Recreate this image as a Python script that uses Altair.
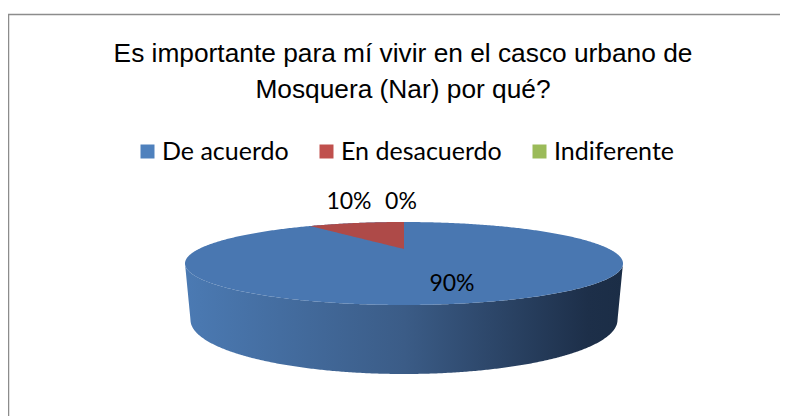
import altair as alt
import numpy as np
import pandas as pd

categories = ["De acuerdo", "En desacuerdo", "Indiferente"]
shares = [90, 10, 0]
legend_colors = ["#4f81bd", "#c0504d", "#9bbb59"]
title_lines = ["Es importante para mí vivir en el casco urbano de", "Mosquera (Nar) por qué?"]

W, H = 772, 408
OX, OY = 8, 8  # page margin

cx, cy, rx, ry = 404 - OX, 263.5 - OY, 219, 41.5
bcy, brx, bry = 320 - OY, 213.5, 54
apex_y = 249 - OY
wedge_param = np.radians(25.4)

xs = cx + rx * np.sin(np.linspace(-np.pi / 2, np.pi / 2, 361))
dx = xs - cx
half = ry * np.sqrt(np.clip(1 - (dx / rx) ** 2, 0, 1))
top_df = pd.DataFrame({"x": xs, "y": cy - half, "y2": cy + half})

bottom = np.where(
    np.abs(dx) <= brx,
    bcy + bry * np.sqrt(np.clip(1 - (dx / brx) ** 2, 0, 1)),
    cy + (bcy - cy) * (rx - np.abs(dx)) / (rx - brx),
)
side_df = pd.DataFrame({"x": xs, "y": cy + half, "y2": bottom})

wx = cx - rx * np.sin(wedge_param * np.linspace(1, 0, 60))
wy_top = cy - ry * np.sqrt(np.clip(1 - ((wx - cx) / rx) ** 2, 0, 1))
wy_edge = wy_top[0] + (apex_y - wy_top[0]) * (wx - wx[0]) / (cx - wx[0])
wedge_df = pd.DataFrame({"x": wx, "y": wy_top, "y2": wy_edge})

X = alt.X("x:Q", scale=alt.Scale(domain=[0, W], range=[0, W]), axis=None)
Y = alt.Y("y:Q", scale=alt.Scale(domain=[0, H], range=[0, H]), axis=None)

side = alt.Chart(side_df).mark_area(
    color=alt.LinearGradient(
        gradient="linear", x1=0, x2=1, y1=0, y2=0,
        stops=[
            alt.GradientStop(offset=0, color="#4b7ab3"),
            alt.GradientStop(offset=0.5, color="#3b5c87"),
            alt.GradientStop(offset=0.92, color="#1d2f49"),
            alt.GradientStop(offset=1, color="#1b2d46"),
        ],
    )
).encode(x=X, y=Y, y2="y2:Q")
top = alt.Chart(top_df).mark_area(color="#4977b1").encode(x=X, y=Y, y2="y2:Q")
wedge = alt.Chart(wedge_df).mark_area(color="#ae4a48").encode(x=X, y=Y, y2="y2:Q")

border_top = alt.Chart(pd.DataFrame({"x": [0], "x2": [W], "y": [14.5 - OY]})).mark_rule(
    color="#8c8c8c", strokeWidth=1.5).encode(x=X, x2="x2:Q", y=Y)
border_left = alt.Chart(pd.DataFrame({"x": [0.5], "y": [14 - OY], "y2": [H]})).mark_rule(
    color="#8c8c8c", strokeWidth=1.5).encode(x=X, y=Y, y2="y2:Q")

title_df = pd.DataFrame({"t": title_lines, "x": [403 - OX, 403 - OX], "y": [54 - OY, 90 - OY]})
title = alt.Chart(title_df).mark_text(
    font="Liberation Sans", fontSize=26.3, color="#000000", align="center", baseline="middle"
).encode(x=X, y=Y, text="t:N")

labels_df = pd.DataFrame({
    "t": [f"{shares[1]}%", f"{shares[2]}%", f"{shares[0]}%"],
    "x": [349 - OX, 401 - OX, 452 - OX],
    "y": [202 - OY, 202 - OY, 284 - OY],
})
labels = alt.Chart(labels_df).mark_text(
    font="Lato", fontSize=23, color="#000000", align="center", baseline="middle"
).encode(x=X, y=Y, text="t:N")

legend_df = pd.DataFrame({"cat": categories, "x": [0, 0, 0], "y": [0, 0, 0]})
legend_layer = alt.Chart(legend_df).mark_square(size=0, opacity=1).encode(
    x=X, y=Y,
    color=alt.Color(
        "cat:N",
        scale=alt.Scale(domain=categories, range=legend_colors),
        legend=alt.Legend(
            title=None, orient="none", direction="horizontal", columns=3,
            legendX=127, legendY=131, symbolType="square", symbolSize=196,
            symbolStrokeWidth=0, labelFont="Lato", labelFontSize=25, labelColor="#000000",
            columnPadding=25, labelOffset=2, gridAlign="none", labelLimit=300,
        ),
    ),
)

chart = alt.layer(
    border_top, border_left, side, top, wedge, title, labels, legend_layer
).properties(
    width=W, height=H, padding=0, autosize=alt.AutoSizeParams(type="none"), background="#ffffff",
).configure_view(stroke=None)

chart.save("out.html", embed_options={"renderer": "svg", "actions": False})
